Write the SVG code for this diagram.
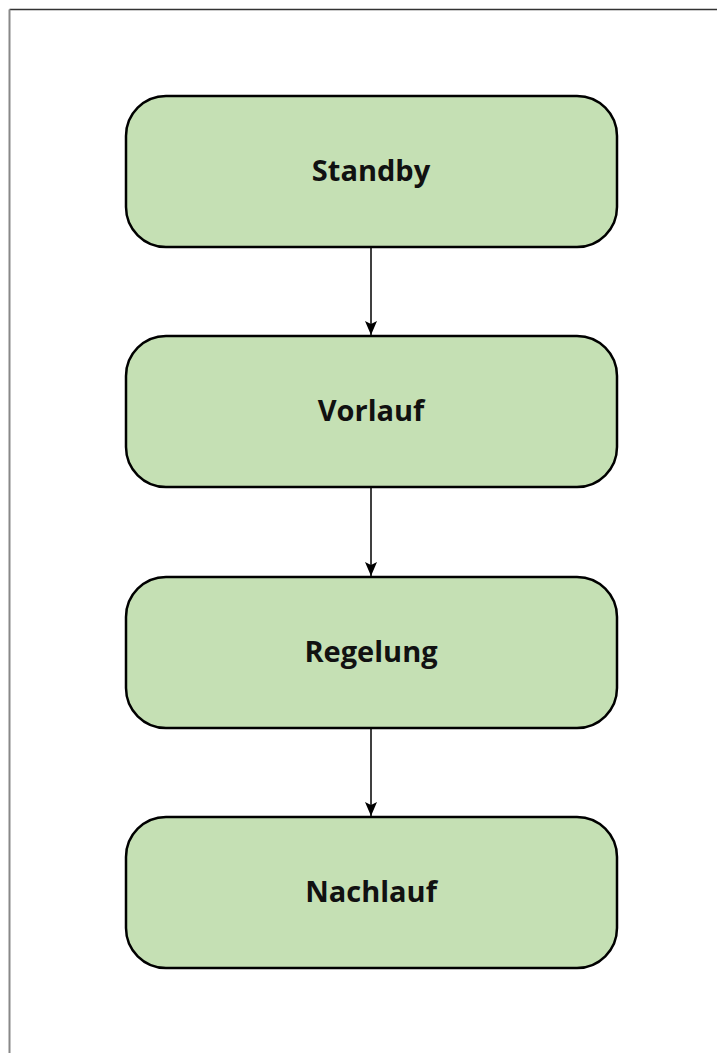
<svg xmlns="http://www.w3.org/2000/svg" width="717" height="1053" viewBox="0 0 717 1053">
<style>
.node{fill:#C5E0B4;stroke:#000;stroke-width:2.5}
.lbl{font-family:"Open Sans","Liberation Sans",sans-serif;font-weight:bold;font-size:29px;fill:#111;text-anchor:middle}
.conn{stroke:#000;stroke-width:1.5;fill:none}
</style>
<defs>
<marker id="arr" markerWidth="14" markerHeight="12" refX="14" refY="6" orient="auto" markerUnits="userSpaceOnUse" viewBox="0 0 14 12">
<path d="M0,0 L14,6 L0,12 L3,6 Z" fill="#000"/>
</marker>
</defs>
<rect width="717" height="1053" fill="#fff"/>
<line x1="9.5" y1="9.5" x2="717" y2="9.5" stroke="#333" stroke-width="1.5"/>
<line x1="9.5" y1="9.5" x2="9.5" y2="1053" stroke="#888" stroke-width="2"/>
<g id="connectors">
<line class="conn" x1="371" y1="247" x2="371" y2="335" marker-end="url(#arr)"/>
<line class="conn" x1="371" y1="488" x2="371" y2="576" marker-end="url(#arr)"/>
<line class="conn" x1="371" y1="728" x2="371" y2="816" marker-end="url(#arr)"/>
</g>
<g id="standby"><rect class="node" x="126" y="96" width="491" height="151" rx="40"/><text class="lbl" x="371" y="181">Standby</text></g>
<g id="vorlauf"><rect class="node" x="126" y="336" width="491" height="151" rx="40"/><text class="lbl" x="371" y="421">Vorlauf</text></g>
<g id="regelung"><rect class="node" x="126" y="577" width="491" height="151" rx="40"/><text class="lbl" x="371" y="662">Regelung</text></g>
<g id="nachlauf"><rect class="node" x="126" y="817" width="491" height="151" rx="40"/><text class="lbl" x="371" y="902">Nachlauf</text></g>
</svg>
